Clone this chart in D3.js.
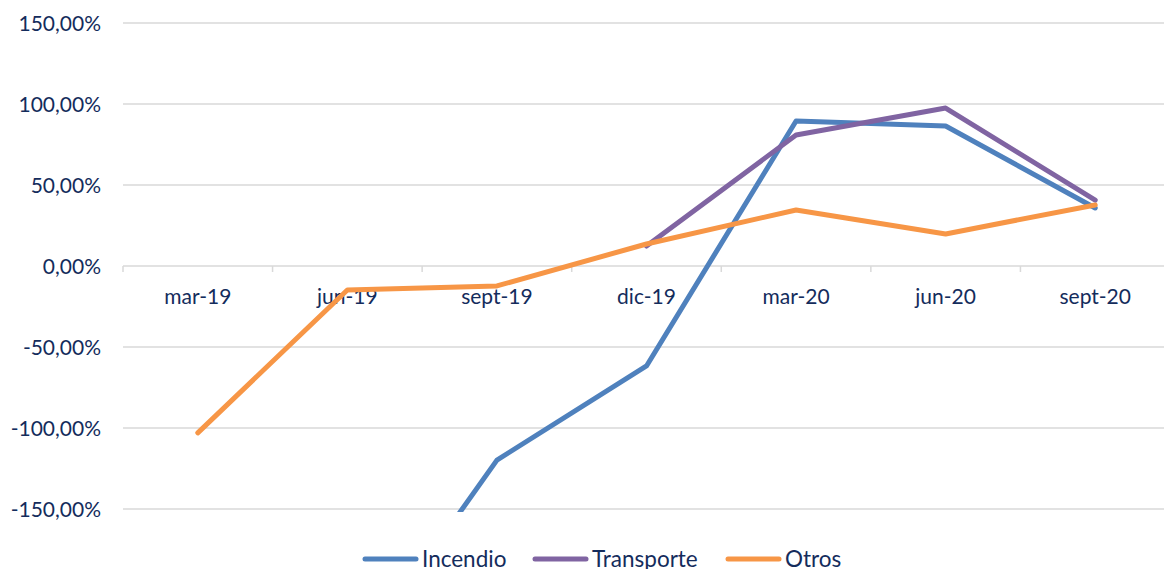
<!DOCTYPE html>
<html>
<head>
<meta charset="utf-8">
<script src="https://cdn.jsdelivr.net/npm/d3@7"></script>
<style>
  body { margin: 0; background: #fff; }
  text { font-family: Lato, "Open Sans", sans-serif; fill: #142c5c; }
</style>
</head>
<body>
<div class="vis"></div>
<script>
// categories and series (percent)
const categories = ["mar-19", "jun-19", "sept-19", "dic-19", "mar-20", "jun-20", "sept-20"];
const incendio   = [null, -250, -119.8, -61.7, 89.5, 86.4, 35.8];
const transporte = [null, null, null, 12.3, 80.9, 97.5, 40.7];
const otros      = [-103, -14.8, -12.3, 13.6, 34.6, 19.8, 37.7];
const yTicks = [150, 100, 50, 0, -50, -100, -150];

const series = [
  {name: "Incendio", values: incendio, color: "#4f81bd"},
  {name: "Transporte", values: transporte, color: "#8064a2"},
  {name: "Otros", values: otros, color: "#f79646"}
];

const W = 1164, H = 569;
const left = 123, right = 1170;

const svg = d3.select(".vis").append("svg")
  .attr("width", W).attr("height", H);

const x = d3.scaleBand().domain(categories).range([left, right]);
const y = d3.scaleLinear().domain([-150, 150]).range([509, 23]);

// excel style: comma decimals, plain hyphen
const fmt = v => d3.format(".2f")(v).replace(".", ",").replace("\u2212", "-") + "%";

// gridlines
svg.append("g").selectAll("line")
  .data(yTicks.filter(d => d !== 0))
  .enter().append("line")
  .attr("x1", left).attr("x2", W)
  .attr("y1", d => y(d)).attr("y2", d => y(d))
  .attr("stroke", "#d9d9d9").attr("stroke-width", 1.5);

// y labels
svg.append("g").selectAll("text")
  .data(yTicks)
  .enter().append("text")
  .attr("x", 101).attr("y", d => y(d))
  .attr("dy", "0.36em")
  .attr("text-anchor", "end")
  .style("font-size", "21px")
  .text(fmt);

// x axis at zero
const xAxis = svg.append("g")
  .attr("transform", "translate(0," + y(0) + ")");
xAxis.append("line")
  .attr("x1", left).attr("x2", W)
  .attr("stroke", "#d9d9d9").attr("stroke-width", 1.5);
xAxis.selectAll(".tk")
  .data(categories.concat(["end"]))
  .enter().append("line")
  .attr("x1", (d, i) => left + i * x.bandwidth())
  .attr("x2", (d, i) => left + i * x.bandwidth())
  .attr("y1", 0).attr("y2", 6)
  .attr("stroke", "#d9d9d9").attr("stroke-width", 1.5);
xAxis.selectAll("text")
  .data(categories)
  .enter().append("text")
  .attr("x", d => x(d) + x.bandwidth() / 2)
  .attr("y", 38)
  .attr("text-anchor", "middle")
  .style("font-size", "21px")
  .text(d => d);

// clip to plot area
svg.append("clipPath").attr("id", "plot")
  .append("rect").attr("x", 0).attr("y", 0).attr("width", W).attr("height", 512);

const line = d3.line()
  .defined(d => d.v !== null)
  .x(d => x(d.c) + x.bandwidth() / 2)
  .y(d => y(d.v));

svg.append("g").attr("clip-path", "url(#plot)")
  .selectAll("path")
  .data(series)
  .enter().append("path")
  .attr("d", s => line(categories.map((c, i) => ({c: c, v: s.values[i]}))))
  .attr("fill", "none")
  .attr("stroke", s => s.color)
  .attr("stroke-width", 5)
  .attr("stroke-linejoin", "round")
  .attr("stroke-linecap", "round");

// legend
const legendX = [365, 535, 728];
const leg = svg.append("g").selectAll("g")
  .data(series)
  .enter().append("g")
  .attr("transform", (d, i) => "translate(" + legendX[i] + ",559)");
leg.append("line")
  .attr("x1", 0).attr("x2", 51)
  .attr("stroke", d => d.color).attr("stroke-width", 5)
  .attr("stroke-linecap", "round");
leg.append("text")
  .attr("x", 57).attr("dy", "0.36em")
  .style("font-size", "22.5px")
  .text(d => d.name);
</script>
</body>
</html>
